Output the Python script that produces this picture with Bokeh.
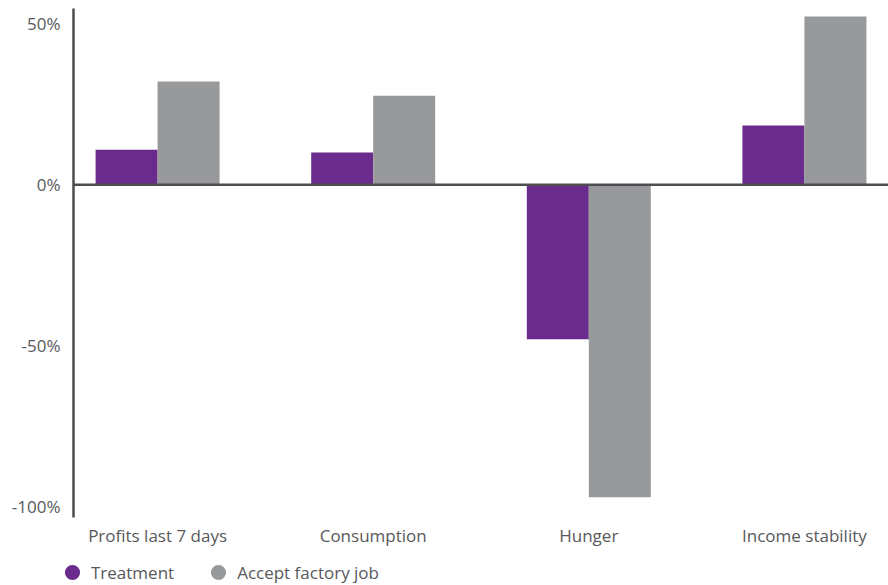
from bokeh.plotting import figure
from bokeh.layouts import column, row
from bokeh.models import (Range1d, FixedTicker, PrintfTickFormatter, Span, Legend,
                          LegendItem, ColumnDataSource)
from bokeh.embed import file_html
from bokeh.resources import INLINE
import numpy as np

categories = ["Profits last 7 days", "Consumption", "Hunger", "Income stability"]
treatment = [10.9, 10.0, -48.1, 18.4]
accept_job = [32.1, 27.7, -97.2, 52.3]
series_names = ["Treatment", "Accept factory job"]
y_ticks = [-100, -50, 0, 50]

PURPLE = "#692C8D"
GRAY = "#98999B"
AXIS = "#4D4D4F"
TEXT = "#58595B"
FONT = "Open Sans"
FS = "17px"

idx = np.arange(len(categories))
bw = 0.2875

p = figure(width=888, height=551, output_backend="svg", toolbar_location=None,
           x_range=Range1d(-0.39, 3.39), y_range=Range1d(-103.5, 54.8),
           min_border_left=73, min_border_right=0, min_border_top=8, min_border_bottom=34)
p.outline_line_color = None
p.grid.visible = False
p.background_fill_color = "white"
p.border_fill_color = "white"

src = ColumnDataSource(dict(xt=idx - bw / 2, xa=idx + bw / 2, t=treatment, a=accept_job))
p.vbar(x="xt", top="t", bottom=0, width=bw, source=src, fill_color=PURPLE, line_color=None)
p.vbar(x="xa", top="a", bottom=0, width=bw, source=src, fill_color=GRAY, line_color=None)

p.add_layout(Span(location=0, dimension="width", line_color=AXIS, line_width=2.5))

# y axis
ya = p.yaxis[0]
ya.ticker = FixedTicker(ticks=y_ticks)
ya.formatter = PrintfTickFormatter(format="%d%%")
ya.axis_line_color = AXIS
ya.axis_line_width = 2.5
ya.major_tick_line_color = None
ya.minor_tick_line_color = None
ya.major_label_standoff = 7
ya.major_label_text_font = FONT
ya.major_label_text_font_size = FS
ya.major_label_text_color = TEXT

# x axis
xa = p.xaxis[0]
xa.ticker = FixedTicker(ticks=list(idx))
xa.major_label_overrides = {int(i): c for i, c in zip(idx, categories)}
xa.axis_line_color = None
xa.major_tick_line_color = None
xa.minor_tick_line_color = None
xa.major_label_standoff = 0
xa.major_label_text_font = FONT
xa.major_label_text_font_size = FS
xa.major_label_text_color = TEXT

# legend strip
lp = figure(width=888, height=34, output_backend="svg", toolbar_location=None,
            x_range=Range1d(0, 1), y_range=Range1d(0, 1),
            x_axis_type=None, y_axis_type=None,
            min_border_left=0, min_border_right=0, min_border_top=0, min_border_bottom=0)
lp.outline_line_color = None
lp.grid.visible = False
proxy = ColumnDataSource(dict(x=[float("nan")], y=[float("nan")]))
r1 = lp.scatter(x="x", y="y", source=proxy, marker="circle", fill_color=PURPLE, line_color=None)
r2 = lp.scatter(x="x", y="y", source=proxy, marker="circle", fill_color=GRAY, line_color=None)
legend = Legend(items=[LegendItem(label=series_names[0], renderers=[r1]),
                       LegendItem(label=series_names[1], renderers=[r2])],
                orientation="horizontal", location=(53, -6),
                glyph_width=38, glyph_height=38, label_standoff=-1, spacing=25,
                padding=0, margin=0, background_fill_alpha=0, border_line_alpha=0,
                label_text_font=FONT, label_text_font_size=FS, label_text_color=TEXT)
lp.add_layout(legend, "center")

open("out.html", "w").write(file_html(column(p, row(lp)), INLINE))
